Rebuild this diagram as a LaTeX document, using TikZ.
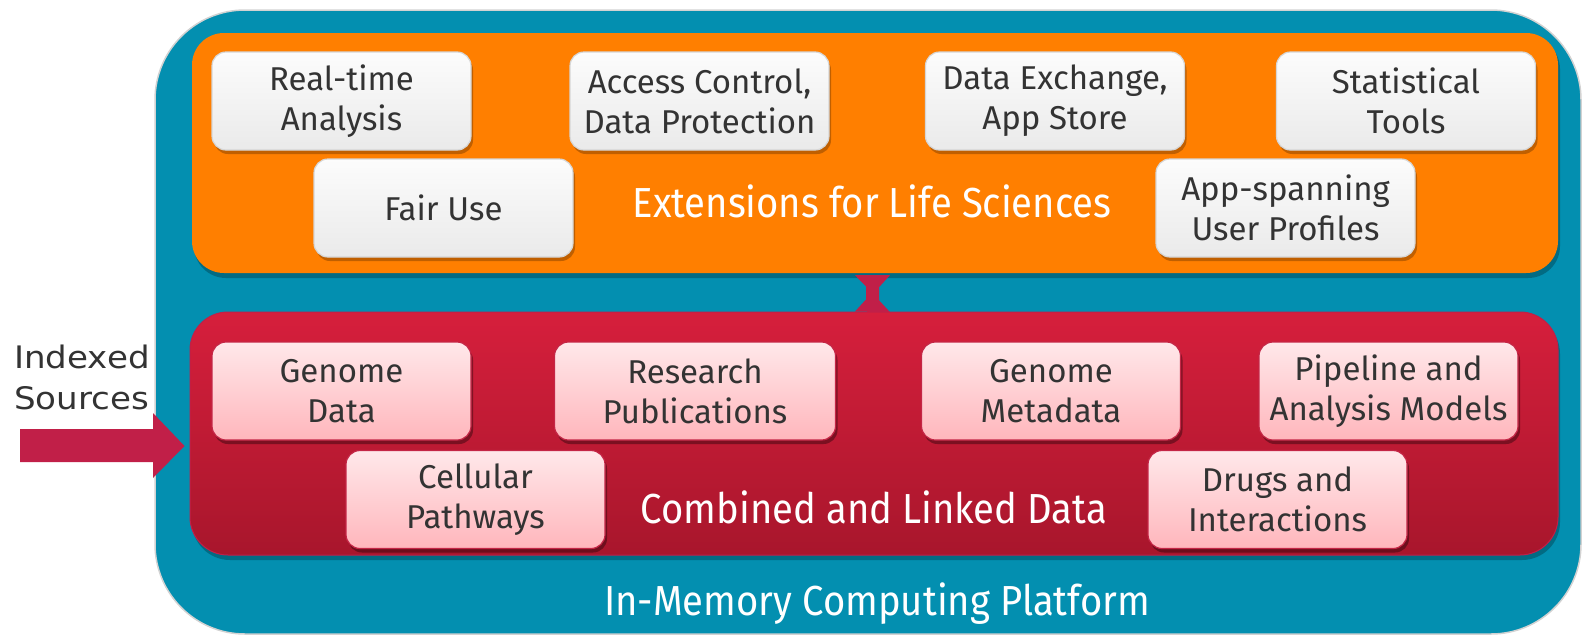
\documentclass[tikz,border=0pt]{standalone}
\usepackage{fontspec}
\setmainfont{Fira Sans}
\newfontfamily\headfont[FakeStretch=0.91]{Fira Sans}
\newfontfamily\labelfont[FakeStretch=1.1]{DejaVu Sans}
\usetikzlibrary{shadows,calc}

\definecolor{platform}{RGB}{3,143,176}
\definecolor{platformrim}{RGB}{210,210,210}
\definecolor{extorange}{RGB}{255,127,0}
\definecolor{datatop}{RGB}{214,31,60}
\definecolor{databot}{RGB}{168,22,44}
\definecolor{crimson}{RGB}{193,31,72}
\definecolor{ink}{RGB}{51,51,51}
\definecolor{greytop}{RGB}{252,252,252}
\definecolor{greybot}{RGB}{234,234,234}
\definecolor{greyrim}{RGB}{214,214,214}
\definecolor{pinktop}{RGB}{255,232,234}
\definecolor{pinkbot}{RGB}{255,182,188}
\definecolor{pinkrim}{RGB}{196,38,70}

\tikzset{
  card/.style={rounded corners=14pt, minimum width=259pt, minimum height=98pt,
    inner sep=0pt, align=center, text=ink,
    font=\fontsize{33}{40}\selectfont, line width=1.2pt},
  extcard/.style={card, draw=greyrim, top color=greytop, bottom color=greybot,
    drop shadow={opacity=0.35, shadow xshift=2pt, shadow yshift=-4pt, fill=black!70!extorange}},
  datacard/.style={card, draw=pinkrim, top color=pinktop, bottom color=pinkbot,
    drop shadow={opacity=0.35, shadow xshift=2pt, shadow yshift=-4pt, fill=black}},
  panel/.style={inner sep=0pt},
  heading/.style={text=white, font=\headfont\fontsize{42}{50}\selectfont, inner sep=0pt},
}

\begin{document}
\begin{tikzpicture}[x=1pt, y=-1pt]
\useasboundingbox (0,0) rectangle (1582,635);

% platform
\draw[fill=platform, draw=platformrim, line width=1.5pt, rounded corners=90pt]
  (155,10) rectangle (1581,634);
\node[heading] (platformtitle) at (877,604) {In-Memory Computing Platform};

% extension layer
\fill[black, opacity=0.25, rounded corners=32pt] (194,37) rectangle (1560,278);
\node[panel, fill=extorange, rounded corners=32pt, minimum width=1366pt, minimum height=240pt]
  (ext) at (875,153) {};
\node[heading] (exttitle) at (872,201) {Extensions for Life Sciences};

% data layer
\fill[black, opacity=0.25, rounded corners=38pt] (192,316) rectangle (1560,560);
\node[panel, top color=datatop, bottom color=databot, draw=crimson, line width=1pt,
  rounded corners=38pt, minimum width=1368pt, minimum height=243pt]
  (data) at (874,433.5) {};
\node[heading] (datatitle) at (874,507) {Combined and Linked Data};

% link between layers
\coordinate (lk) at (872.5,0);
\fill[crimson] ($(ext.south -| lk)+(-17.5,2)$) -- ++(35,0) -- ++(-11,12) -- ++(0,13)
  -- ++(11,12) -- ($(data.north -| lk)+(-17.5,0)$) -- ++(11,-12) -- ++(0,-13) -- cycle;

% extension cards
\node[extcard] (rt) at (341.5,101) {Real-time\\Analysis};
\node[extcard] (ac) at (699.5,101) {Access Control,\\Data Protection};
\node[extcard] (dx) at (1055,101) {Data Exchange,\\App Store};
\node[extcard] (st) at (1406,101) {Statistical\\Tools};
\node[extcard] (fu) at (443.5,208) {Fair Use};
\node[extcard] (up) at (1285.5,208) {App-spanning\\User Profiles};

% data cards
\node[datacard] (gd) at (341.5,391) {Genome\\Data};
\node[datacard, minimum width=281pt] (rp) at (695,391) {Research\\Publications};
\node[datacard] (gm) at (1051,391) {Genome\\Metadata};
\node[datacard] (pa) at (1388.5,391) {Pipeline and\\Analysis Models};
\node[datacard] (cp) at (475.5,499.5) {Cellular\\Pathways};
\node[datacard] (di) at (1277.5,499.5) {Drugs and\\Interactions};

% indexed sources input
\node[anchor=north west, inner sep=0pt, align=left, text=ink,
  font=\labelfont\fontsize{31}{41}\selectfont] (src) at (14,345) {Indexed\\Sources};
\coordinate (tip) at ($(data.west)+(-5,12.5)$);
\fill[crimson] (20,429) -- (153,429) -- (153,413) -- (tip) -- (153,478) -- (153,462) -- (20,462) -- cycle;
\end{tikzpicture}
\end{document}
